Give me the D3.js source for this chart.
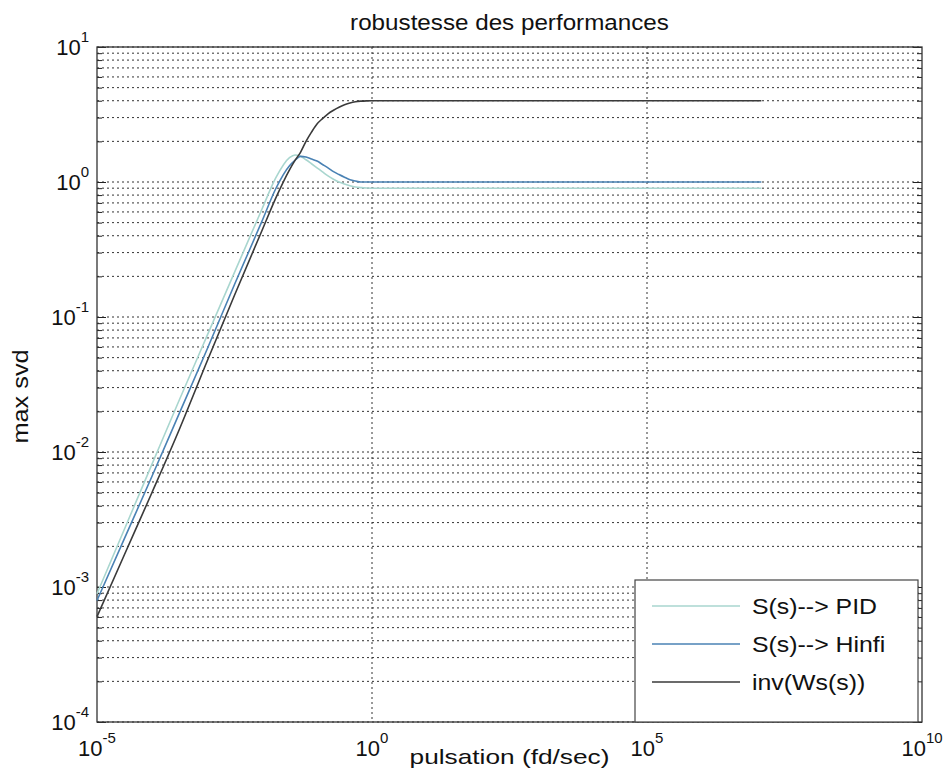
<!DOCTYPE html>
<html>
<head>
<meta charset="utf-8">
<script src="https://cdn.jsdelivr.net/npm/d3@7"></script>
<style>
  body { margin: 0; background: #fff; }
  text { font-family: "Liberation Sans", Arial, sans-serif; fill: #111; }
</style>
</head>
<body>
<svg></svg>
<script>
const width = 944;
const height = 772;
const margin = {left: 97, right: 22, top: 47, bottom: 50};

// pulsation (rad/s) sample points
const omega = [1e-5, 3.162e-5, 1e-4, 3.162e-4, 1e-3, 3.162e-3, 1e-2, 1.778e-2,
  3.162e-2, 3.981e-2, 5.012e-2, 6.310e-2, 7.943e-2, 0.1, 0.1259, 0.1585, 0.1995,
  0.2512, 0.3162, 0.3981, 0.5012, 0.6310, 0.7943, 1, 10, 1e3, 1e5, 1.2e7];

// S(s) --> PID
const sPid = [8.91e-4, 2.69e-3, 8.13e-3, 2.45e-2, 7.24e-2, 0.214, 0.631, 1.072,
  1.514, 1.585, 1.549, 1.462, 1.365, 1.274, 1.189, 1.109, 1.047,
  1.0, 0.966, 0.938, 0.918, 0.908, 0.902, 0.9, 0.9, 0.9, 0.9, 0.9];

// S(s) --> Hinfi
const sHinf = [7.94e-4, 2.29e-3, 6.61e-3, 1.95e-2, 5.75e-2, 0.174, 0.513, 0.891,
  1.318, 1.445, 1.549, 1.531, 1.479, 1.429, 1.349, 1.274, 1.194,
  1.135, 1.084, 1.040, 1.016, 1.0, 1.0, 1.0, 1.0, 1.0, 1.0, 1.0];

// inv(Ws(s))
const invWs = [6.03e-4, 1.74e-3, 5.01e-3, 1.48e-2, 4.68e-2, 0.145, 0.437, 0.759,
  1.23, 1.445, 1.66, 2.0, 2.34, 2.69, 2.95, 3.2, 3.4,
  3.58, 3.73, 3.85, 3.93, 3.97, 3.99, 4.0, 4.0, 4.0, 4.0, 4.0];

const seriesNames = ['S(s)--> PID', 'S(s)--> Hinfi', 'inv(Ws(s))'];
const seriesColors = ['#a9d6cf', '#4a82b4', '#3a3a3a'];

const xTickExp = [-5, 0, 5, 10];
const yTickExp = [-4, -3, -2, -1, 0, 1];

const svg = d3.select('svg')
    .attr('width', width)
    .attr('height', height);

const x = d3.scaleLog()
    .domain([1e-5, 1e10])
    .range([margin.left, width - margin.right]);

const y = d3.scaleLog()
    .domain([1e-4, 10])
    .range([height - margin.bottom, margin.top]);

const x0 = margin.left, x1 = width - margin.right;
const y0 = margin.top, y1 = height - margin.bottom;

// the scanned text is a bit wider than the font: stretch it horizontally
function stretch(sel, k) {
  sel.each(function() {
    const w = this.getComputedTextLength();
    d3.select(this)
        .attr('textLength', w * k)
        .attr('lengthAdjust', 'spacingAndGlyphs');
  });
}

// horizontal grid: every 1..9 x 10^k
const yGridVals = y.ticks();
svg.append('g')
  .selectAll('line')
  .data(yGridVals)
  .join('line')
    .attr('x1', x0)
    .attr('x2', x1)
    .attr('y1', d => y(d))
    .attr('y2', d => y(d))
    .attr('stroke', '#333')
    .attr('stroke-width', 1)
    .attr('stroke-dasharray', '2,3');

// vertical grid only at inner decade labels
svg.append('g')
  .selectAll('line')
  .data(xTickExp.slice(1, -1))
  .join('line')
    .attr('x1', d => x(Math.pow(10, d)))
    .attr('x2', d => x(Math.pow(10, d)))
    .attr('y1', y0)
    .attr('y2', y1)
    .attr('stroke', '#333')
    .attr('stroke-width', 1)
    .attr('stroke-dasharray', '2,3');

// inward ticks on left and right
const isMajor = d => Math.abs(Math.log10(d) - Math.round(Math.log10(d))) < 1e-9;
svg.append('g')
    .attr('transform', `translate(${x0},0)`)
    .call(d3.axisLeft(y).tickValues(yGridVals).tickSize(0).tickFormat(''))
    .call(g => g.select('.domain').remove())
    .call(g => g.selectAll('.tick line')
        .attr('x2', d => isMajor(d) ? 9 : 5)
        .attr('stroke', '#222'));
svg.append('g')
    .attr('transform', `translate(${x1},0)`)
    .call(d3.axisRight(y).tickValues(yGridVals).tickSize(0).tickFormat(''))
    .call(g => g.select('.domain').remove())
    .call(g => g.selectAll('.tick line')
        .attr('x2', d => isMajor(d) ? -9 : -5)
        .attr('stroke', '#222'));

// box
svg.append('rect')
    .attr('x', x0)
    .attr('y', y0)
    .attr('width', x1 - x0)
    .attr('height', y1 - y0)
    .attr('fill', 'none')
    .attr('stroke', '#333')
    .attr('stroke-width', 1.3);

// curves
const line = d3.line()
    .x((d, i) => x(omega[i]))
    .y(d => y(d))
    .curve(d3.curveMonotoneX);

[sPid, sHinf, invWs].forEach((vals, i) => {
  svg.append('path')
      .datum(vals)
      .attr('d', line)
      .attr('fill', 'none')
      .attr('stroke', seriesColors[i])
      .attr('stroke-width', 1.6);
});

// tick labels with superscript exponents
svg.append('g')
  .selectAll('text')
  .data(yTickExp)
  .join('text')
    .attr('x', x0 - 8)
    .attr('y', d => y(Math.pow(10, d)) + 8)
    .attr('text-anchor', 'end')
    .style('font-size', '22px')
    .each(function(d) {
      const t = d3.select(this);
      t.append('tspan').text('10');
      t.append('tspan').attr('dy', -13).style('font-size', '15px').text(d);
    });

svg.append('g')
  .selectAll('text')
  .data(xTickExp)
  .join('text')
    .attr('x', d => x(Math.pow(10, d)))
    .attr('y', y1 + 34)
    .attr('text-anchor', 'middle')
    .style('font-size', '22px')
    .each(function(d) {
      const t = d3.select(this);
      t.append('tspan').text('10');
      t.append('tspan').attr('dy', -13).style('font-size', '15px').text(d);
    });

// title and axis labels
svg.append('text')
    .attr('x', (x0 + x1) / 2)
    .attr('y', 30)
    .attr('text-anchor', 'middle')
    .style('font-size', '22px')
    .text('robustesse des performances')
    .call(stretch, 1.1);

svg.append('text')
    .attr('x', (x0 + x1) / 2)
    .attr('y', 764)
    .attr('text-anchor', 'middle')
    .style('font-size', '21px')
    .text('pulsation (fd/sec)')
    .call(stretch, 1.25);

svg.append('text')
    .attr('transform', `translate(28,${(y0 + y1) / 2 + 12}) rotate(-90)`)
    .attr('text-anchor', 'middle')
    .style('font-size', '22px')
    .text('max svd')
    .call(stretch, 1.15);

// legend
const lg = svg.append('g');
lg.append('rect')
    .attr('x', 635)
    .attr('y', 580)
    .attr('width', 283)
    .attr('height', y1 - 580)
    .attr('fill', '#fff')
    .attr('stroke', '#444')
    .attr('stroke-width', 1.2);

seriesNames.forEach((name, i) => {
  const ry = 606 + i * 38;
  lg.append('line')
      .attr('x1', 652)
      .attr('x2', 740)
      .attr('y1', ry)
      .attr('y2', ry)
      .attr('stroke', seriesColors[i])
      .attr('stroke-width', 1.6);
  lg.append('text')
      .attr('x', 752)
      .attr('y', ry + 8)
      .style('font-size', '22px')
      .text(name)
      .call(stretch, 1.13);
});
</script>
</body>
</html>
